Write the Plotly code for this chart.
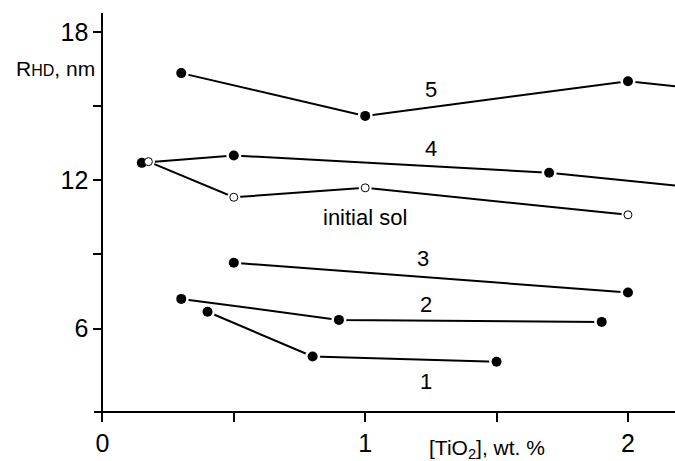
import plotly.graph_objects as go

# Hydrodynamic radius vs TiO2 content for each series
x1 = [0.4, 0.8, 1.5]
y1 = [6.68, 4.87, 4.66]
x2 = [0.3, 0.9, 1.9]
y2 = [7.2, 6.35, 6.27]
x3 = [0.5, 2.0]
y3 = [8.66, 7.46]
x4 = [0.15, 0.5, 1.7, 2.5]
y4 = [12.7, 13.0, 12.3, 11.44]
x5 = [0.3, 1.0, 2.0, 2.5]
y5 = [16.33, 14.6, 16.0, 15.43]
x_sol = [0.175, 0.5, 1.0, 2.0]
y_sol = [12.75, 11.31, 11.69, 10.6]

# Curve labels
label_text = ["1", "2", "3", "4", "5", "initial sol"]
label_x = [1.23, 1.23, 1.22, 1.25, 1.25, 1.0]
label_y = [3.85, 6.96, 8.82, 13.3, 15.67, 10.5]

FONT = "Liberation Sans, Arial, sans-serif"

fig = go.Figure()

filled = [(x1, y1), (x2, y2), (x3, y3), (x4, y4), (x5, y5)]
for xs, ys in filled + [(x_sol, y_sol)]:
    fig.add_trace(go.Scatter(x=xs, y=ys, mode="lines",
                             line=dict(color="black", width=2),
                             hoverinfo="skip", showlegend=False))

# white halo so the lines stop short of the markers
for xs, ys in filled:
    fig.add_trace(go.Scatter(x=xs, y=ys, mode="markers",
                             marker=dict(color="white", size=15),
                             hoverinfo="skip", showlegend=False))
fig.add_trace(go.Scatter(x=x_sol, y=y_sol, mode="markers",
                         marker=dict(color="white", size=13),
                         hoverinfo="skip", showlegend=False))

for xs, ys in filled:
    fig.add_trace(go.Scatter(x=xs, y=ys, mode="markers",
                             marker=dict(color="black", size=10),
                             showlegend=False))
fig.add_trace(go.Scatter(x=x_sol, y=y_sol, mode="markers",
                         marker=dict(color="white", size=8,
                                     line=dict(color="black", width=1)),
                         showlegend=False))

for t, lx, ly in zip(label_text, label_x, label_y):
    fig.add_annotation(x=lx, y=ly, text=t, showarrow=False,
                       font=dict(family=FONT, size=22, color="black"))

# axis titles
fig.add_annotation(xref="paper", yref="paper", x=0.005, y=0.86,
                   xanchor="right", yanchor="middle",
                   text="R<span style='font-size:16px'>HD</span>, nm",
                   showarrow=False,
                   font=dict(family=FONT, size=21, color="black"))
fig.add_annotation(xref="paper", yref="paper", x=0.677, y=-0.095,
                   xanchor="center", yanchor="middle",
                   text="[TiO<sub>2</sub>], wt. %", showarrow=False,
                   font=dict(family=FONT, size=21, color="black"))

fig.update_layout(
    width=675, height=461,
    margin=dict(l=94, r=0, t=13, b=50),
    paper_bgcolor="white", plot_bgcolor="white",
    font=dict(family=FONT, color="black"),
    xaxis=dict(range=[-0.032, 2.179], showgrid=False, zeroline=False,
               showline=True, linecolor="black", linewidth=2,
               ticks="outside", ticklen=9, tickwidth=2, tickcolor="black",
               tickvals=[0, 1, 2], ticktext=["0", "1", "2"],
               tickfont=dict(family=FONT, size=25, color="black"),
               minor=dict(tickvals=[0.5, 1.5], ticks="outside", ticklen=9,
                          tickwidth=2, tickcolor="black", showgrid=False)),
    yaxis=dict(range=[2.667, 18.76], showgrid=False, zeroline=False,
               anchor="free", position=0.0143,
               showline=True, linecolor="black", linewidth=2,
               ticks="outside", ticklen=8, tickwidth=2, tickcolor="black",
               tickvals=[6, 12, 18], ticktext=["6", "12", "18"],
               tickfont=dict(family=FONT, size=25, color="black"),
               minor=dict(tickvals=[9, 15], ticks="outside", ticklen=8,
                          tickwidth=2, tickcolor="black", showgrid=False)),
)

fig.write_html("out.html")
